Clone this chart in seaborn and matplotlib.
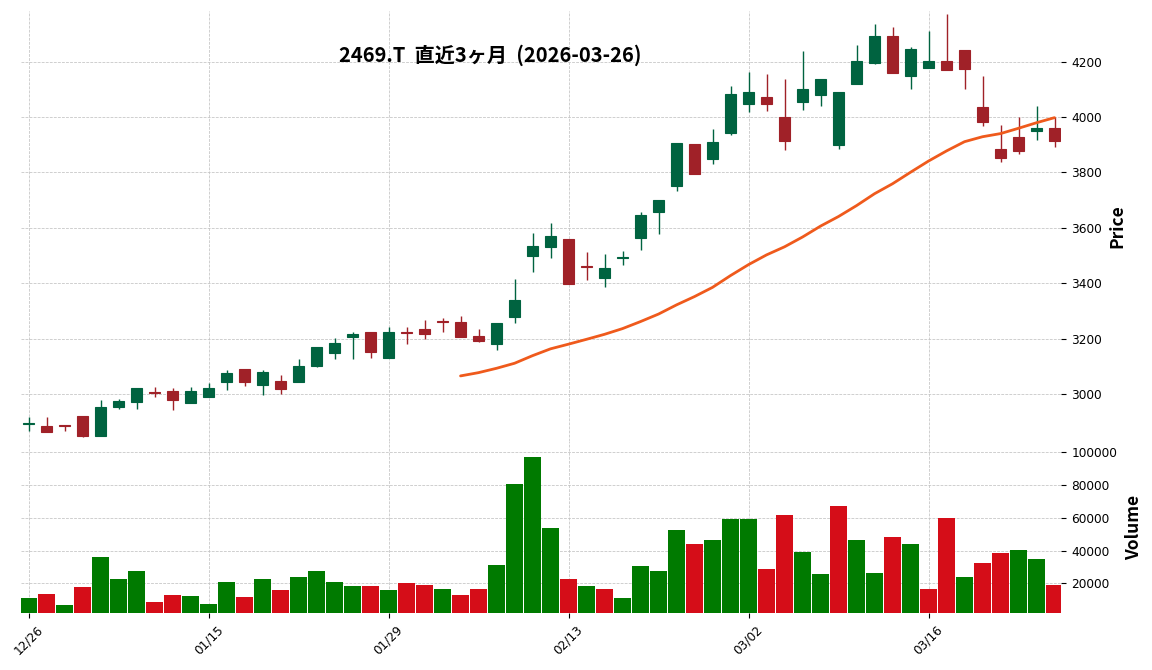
import numpy as np
import pandas as pd
import matplotlib
matplotlib.use("Agg")
import matplotlib.pyplot as plt
import seaborn as sns

# daily bars, 2025-12-26 .. 2026-03-26 (TSE trading days)
dates = ['12/26', '12/29', '12/30', '01/05', '01/06', '01/07', '01/08', '01/09', '01/13', '01/14',
         '01/15', '01/16', '01/19', '01/20', '01/21', '01/22', '01/23', '01/26', '01/27', '01/28',
         '01/29', '01/30', '02/02', '02/03', '02/04', '02/05', '02/06', '02/09', '02/10', '02/12',
         '02/13', '02/16', '02/17', '02/18', '02/19', '02/20', '02/24', '02/25', '02/26', '02/27',
         '03/02', '03/03', '03/04', '03/05', '03/06', '03/09', '03/10', '03/11', '03/12', '03/13',
         '03/16', '03/17', '03/18', '03/19', '03/23', '03/24', '03/25', '03/26']

opens = [2892, 2884, 2888, 2921, 2848, 2951, 2972, 3006, 3011, 2969,
         2990, 3044, 3090, 3034, 3047, 3044, 3101, 3149, 3207, 3224,
         3128, 3222, 3235, 3262, 3260, 3209, 3182, 3279, 3499, 3532,
         3560, 3462, 3420, 3490, 3564, 3658, 3752, 3902, 3849, 3942,
         4048, 4072, 4000, 4055, 4080, 3899, 4120, 4197, 4292, 4149,
         4178, 4202, 4242, 4036, 3886, 3928, 3951, 3960]
highs = [2916, 2916, 2888, 2921, 2977, 2981, 3022, 3024, 3021, 3025,
         3039, 3087, 3090, 3087, 3068, 3126, 3170, 3201, 3223, 3224,
         3241, 3241, 3266, 3273, 3280, 3234, 3256, 3414, 3581, 3616,
         3560, 3512, 3504, 3517, 3656, 3700, 3906, 3902, 3956, 4111,
         4161, 4154, 4138, 4237, 4137, 4091, 4260, 4335, 4324, 4252,
         4309, 4371, 4242, 4147, 3970, 3999, 4039, 3999]
lows = [2866, 2862, 2865, 2844, 2848, 2945, 2945, 2988, 2942, 2969,
        2990, 3013, 3028, 2995, 3000, 3044, 3097, 3125, 3125, 3129,
        3128, 3179, 3200, 3223, 3206, 3189, 3158, 3255, 3439, 3490,
        3397, 3410, 3385, 3465, 3520, 3578, 3733, 3795, 3829, 3934,
        4017, 4022, 3880, 4025, 4039, 3883, 4120, 4190, 4160, 4100,
        4178, 4170, 4100, 3969, 3839, 3865, 3916, 3891]
closes = [2896, 2863, 2885, 2848, 2953, 2975, 3022, 3004, 2978, 3011,
          3022, 3077, 3044, 3079, 3019, 3101, 3170, 3184, 3217, 3152,
          3224, 3219, 3218, 3260, 3206, 3191, 3256, 3339, 3534, 3570,
          3397, 3460, 3455, 3494, 3646, 3700, 3906, 3795, 3910, 4083,
          4090, 4048, 3914, 4101, 4137, 4091, 4202, 4292, 4160, 4245,
          4202, 4170, 4173, 3982, 3853, 3878, 3960, 3914]
volumes = [11200, 13600, 6900, 17800, 35900, 22600, 27400, 8700, 13000, 12400,
           7500, 20800, 11800, 22600, 16000, 23800, 27400, 20800, 18400, 18400,
           16000, 20200, 19000, 16600, 13000, 16600, 31000, 80500, 96800, 53900,
           22600, 18400, 16600, 11100, 30400, 27400, 52700, 43700, 46100, 59300,
           59300, 28600, 61700, 38900, 25600, 67200, 46100, 26200, 48500, 43700,
           16600, 59900, 23800, 32200, 38300, 40100, 34600, 19000]

title = "2469.T  直近3ヶ月  (2026-03-26)"
up_candle, down_candle = '#006340', '#a02128'
up_vol, down_vol = '#007a00', '#d50d18'

df = pd.DataFrame({'date': dates, 'open': opens, 'high': highs, 'low': lows,
                   'close': closes, 'volume': volumes})
df['idx'] = np.arange(len(df))
df['ma25'] = df['close'].rolling(25).mean()
df['vdir'] = np.where(df['close'].diff().fillna(1) >= 0, 'up', 'down')

sns.set_theme(style="white")
plt.rcParams['font.family'] = ['DejaVu Sans']
cjk = ['Noto Sans CJK JP', 'DejaVu Sans']

fig = plt.figure(figsize=(11.52, 6.70), dpi=100)
axp = fig.add_axes([21 / 1152, 1 - 441 / 670, 1040 / 1152, 430 / 670])
axv = fig.add_axes([21 / 1152, 1 - 613 / 670, 1040 / 1152, 172 / 670], sharex=axp)

# candles
ccol = [up_candle if c >= o else down_candle for o, c in zip(df['open'], df['close'])]
axp.vlines(df['idx'], df['low'], df['high'], colors=ccol, linewidth=1.0, zorder=2)
body = (df['close'] - df['open']).abs()
axp.bar(df['idx'], body, bottom=df[['open', 'close']].min(axis=1), width=0.6,
        color=ccol, edgecolor=ccol, linewidth=0.8, zorder=3)

# 25-day moving average
sns.lineplot(x=df['idx'], y=df['ma25'], color='#ef5a1c', linewidth=2, ax=axp, zorder=4)

# volume
sns.barplot(data=df, x='idx', y='volume', hue='vdir', palette={'up': up_vol, 'down': down_vol},
            native_scale=True, dodge=False, width=0.98, saturation=1, linewidth=0,
            legend=False, ax=axv)

axp.set_xlim(-0.42, len(df) - 1 + 0.36)
axp.set_ylim(2830, 4383)
axv.set_ylim(0.3 * min(volumes), 1.1 * max(volumes))

axp.set_yticks(range(3000, 4201, 200))
axv.set_yticks(range(20000, 100001, 20000))
axv.set_xticks(df['idx'][::10])
axv.set_xticklabels(df['date'][::10], rotation=45, ha='center')

for ax in (axp, axv):
    ax.yaxis.tick_right()
    ax.yaxis.set_label_position('right')
    ax.grid(True, linestyle='--', linewidth=0.55, color='#c2c2c2')
    ax.set_axisbelow(True)
    for s in ax.spines.values():
        s.set_visible(False)
    ax.tick_params(axis='y', which='both', right=True, length=3.5, width=0.8,
                   pad=4, labelsize=8.7, colors='black')
    ax.set_xlabel('')

axp.tick_params(axis='x', bottom=False, labelbottom=False)
axv.tick_params(axis='x', bottom=True, length=3.5, width=0.8, labelsize=8.7, colors='black')

axp.set_ylabel('Price', fontsize=12.5, fontweight='bold', family=cjk, labelpad=4.3, color='black')
axv.set_ylabel('Volume', fontsize=12.5, fontweight='bold', family=cjk, labelpad=5.7, color='black')

fig.text(490 / 1152, 1 - 55 / 670, title, ha='center', va='center', color='black',
         fontsize=14.5, fontweight='bold', family=cjk)

fig.savefig("out.png", dpi=100)
